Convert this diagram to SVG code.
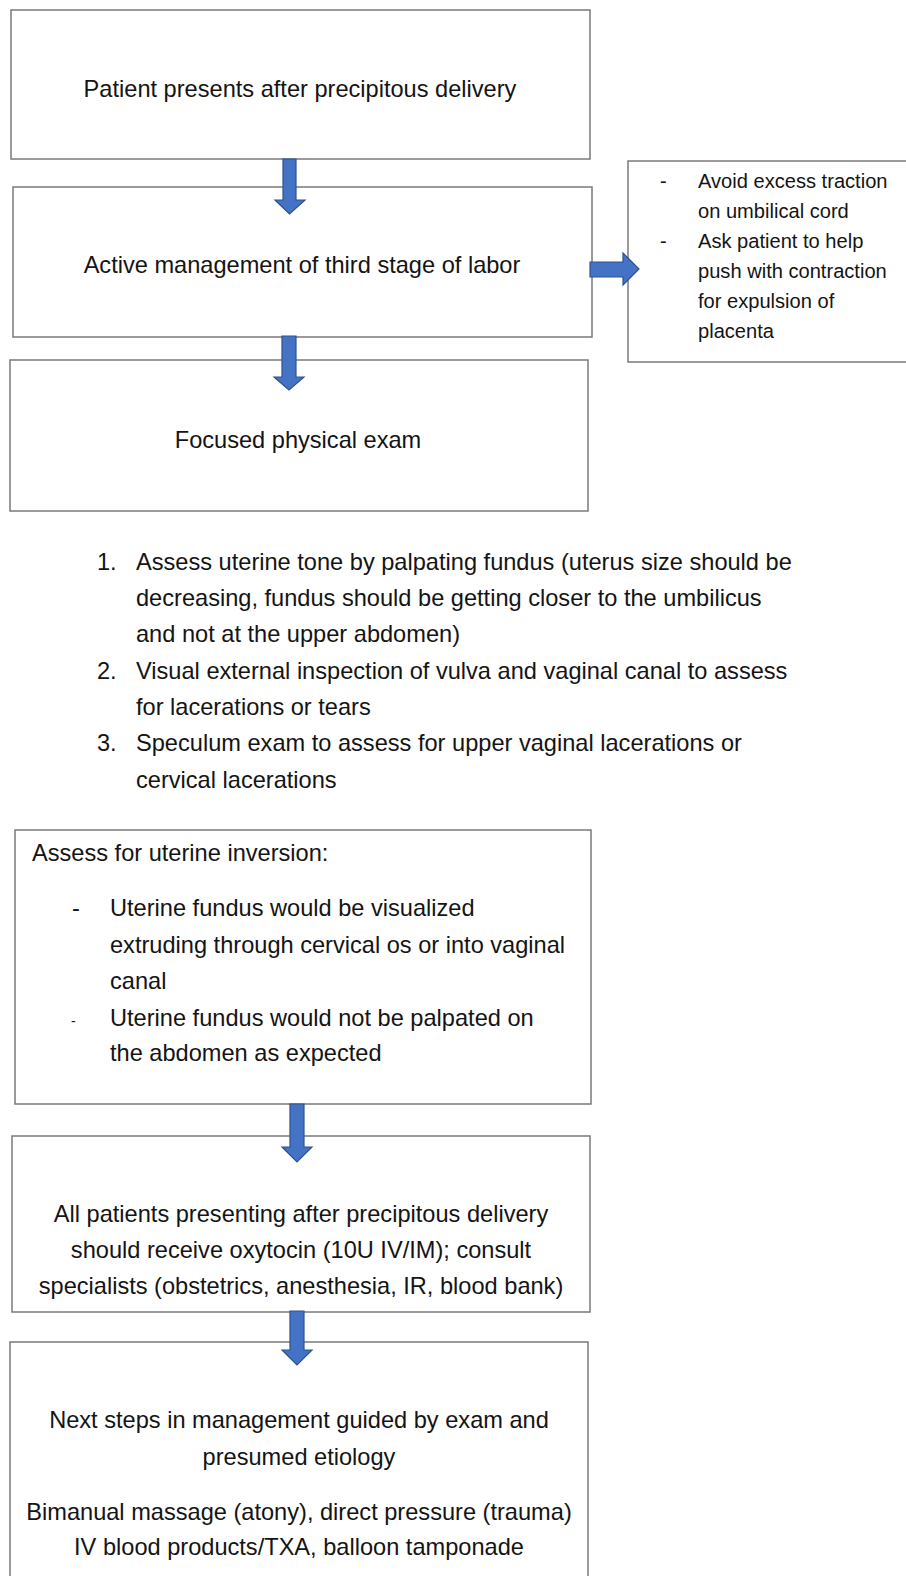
<svg xmlns="http://www.w3.org/2000/svg" width="906" height="1576" viewBox="0 0 906 1576">
<style>
.box{fill:#ffffff;stroke:#7a7a7a;stroke-width:1.5}
.arr{fill:#4472C4;stroke:#2F528F;stroke-width:1.2;stroke-linejoin:miter}
text{font-family:"Liberation Sans",Arial,sans-serif;fill:#141414}
.m{font-size:23.6px}
.s{font-size:20.1px}
.c{text-anchor:middle}
</style>
<rect width="906" height="1576" fill="#ffffff"/>
<g id="node-start">
<rect class="box" x="11" y="10" width="579" height="149"/>
<text class="m c" x="300" y="97">Patient presents after precipitous delivery</text>
</g>
<g id="node-active">
<rect class="box" x="13" y="187" width="579" height="150"/>
<text class="m c" x="302" y="273">Active management of third stage of labor</text>
</g>
<g id="node-side">
<rect class="box" x="628" y="161" width="300" height="201"/>
<text class="s" x="660" y="188">-</text>
<text class="s" x="698" y="188">Avoid excess traction</text>
<text class="s" x="698" y="218">on umbilical cord</text>
<text class="s" x="660" y="248">-</text>
<text class="s" x="698" y="248">Ask patient to help</text>
<text class="s" x="698" y="278">push with contraction</text>
<text class="s" x="698" y="308">for expulsion of</text>
<text class="s" x="698" y="338">placenta</text>
</g>
<g id="node-exam">
<rect class="box" x="10" y="360" width="578" height="151"/>
<text class="m c" x="298" y="448">Focused physical exam</text>
</g>
<g id="node-list">
<text class="m" x="97" y="570">1.</text>
<text class="m" x="136" y="570">Assess uterine tone by palpating fundus (uterus size should be</text>
<text class="m" x="136" y="606">decreasing, fundus should be getting closer to the umbilicus</text>
<text class="m" x="136" y="642">and not at the upper abdomen)</text>
<text class="m" x="97" y="679">2.</text>
<text class="m" x="136" y="679">Visual external inspection of vulva and vaginal canal to assess</text>
<text class="m" x="136" y="715">for lacerations or tears</text>
<text class="m" x="97" y="751">3.</text>
<text class="m" x="136" y="751">Speculum exam to assess for upper vaginal lacerations or</text>
<text class="m" x="136" y="788">cervical lacerations</text>
</g>
<g id="node-inversion">
<rect class="box" x="15" y="830" width="576" height="274"/>
<text class="m" x="32" y="861">Assess for uterine inversion:</text>
<text class="m" x="72" y="916">-</text>
<text class="m" x="110" y="916">Uterine fundus would be visualized</text>
<text class="m" x="110" y="953">extruding through cervical os or into vaginal</text>
<text class="m" x="110" y="989">canal</text>
<text style="font-size:14px" x="71" y="1026">-</text>
<text class="m" x="110" y="1026">Uterine fundus would not be palpated on</text>
<text class="m" x="110" y="1061">the abdomen as expected</text>
</g>
<g id="node-oxytocin">
<rect class="box" x="12" y="1136" width="578" height="176"/>
<text class="m c" x="301" y="1222">All patients presenting after precipitous delivery</text>
<text class="m c" x="301" y="1258">should receive oxytocin (10U IV/IM); consult</text>
<text class="m c" x="301" y="1294">specialists (obstetrics, anesthesia, IR, blood bank)</text>
</g>
<g id="node-next">
<rect class="box" x="10" y="1342" width="578" height="260"/>
<text class="m c" x="299" y="1428">Next steps in management guided by exam and</text>
<text class="m c" x="299" y="1465">presumed etiology</text>
<text class="m c" x="299" y="1520">Bimanual massage (atony), direct pressure (trauma)</text>
<text class="m c" x="299" y="1555">IV blood products/TXA, balloon tamponade</text>
</g>
<g id="connectors">
<polygon class="arr" points="283,159 296,159 296,200 305,200 289.5,214 275,200 283,200"/>
<polygon class="arr" points="282,336 296,336 296,377 304,377 289,390 274,377 282,377"/>
<polygon class="arr" points="590,262 623,262 623,253 639,269 623,285 623,277 590,277"/>
<polygon class="arr" points="290,1104 304,1104 304,1147 312,1147 297,1162 282,1147 290,1147"/>
<polygon class="arr" points="290,1311 304,1311 304,1350 312,1350 297,1365 282,1350 290,1350"/>
</g>
</svg>
